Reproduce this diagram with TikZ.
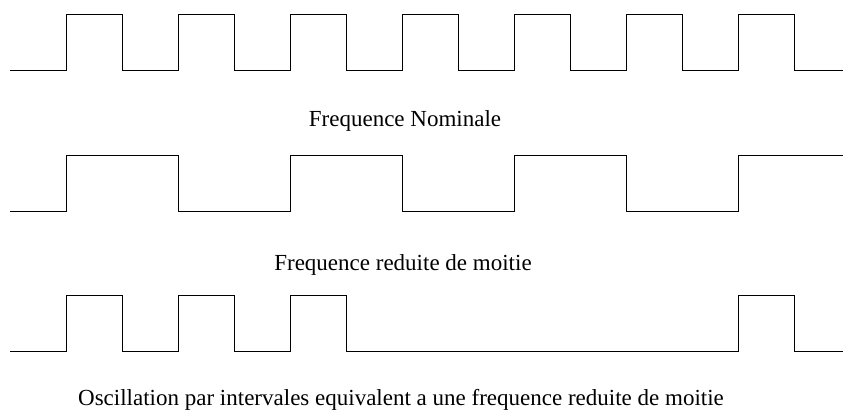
\documentclass[tikz,border=0pt]{standalone}
\usepackage{fontspec}
\setmainfont{Liberation Serif}
\usepackage{tikz}

\begin{document}
\begin{tikzpicture}[x=0.75pt, y=-0.75pt,
    signal/.style={line width=0.75pt, line join=miter},
    caption/.style={anchor=base, font=\fontsize{17.25}{20}\selectfont}]
  \useasboundingbox (0,0) rectangle (843,410);

  % Nominal frequency
  \draw[signal] (10,71)
    \foreach \k in {0,...,6}{
      -- ({66.5+112*\k},71) -- ++(0,-56) -- ++(56,0) -- ++(0,56)
    } -- (843,71);
  \node[caption] (nominale) at (405,127) {Frequence Nominale};

  % Half frequency
  \draw[signal] (10,211)
    \foreach \k in {0,1,2}{
      -- ({66.5+224*\k},211) -- ++(0,-56) -- ++(112,0) -- ++(0,56)
    } -- (738.5,211) -- ++(0,-56) -- (843,155);
  \node[caption] (reduite) at (403,270) {Frequence reduite de moitie};

  % Oscillation by intervals
  \draw[signal] (10,351)
    \foreach \x in {66.5,178.5,290.5,738.5}{
      -- (\x,351) -- ++(0,-56) -- ++(56,0) -- ++(0,56)
    } -- (843,351);
  \node[caption] (intervales) at (401,405)
    {Oscillation par intervales equivalent a une frequence reduite de moitie};
\end{tikzpicture}
\end{document}
